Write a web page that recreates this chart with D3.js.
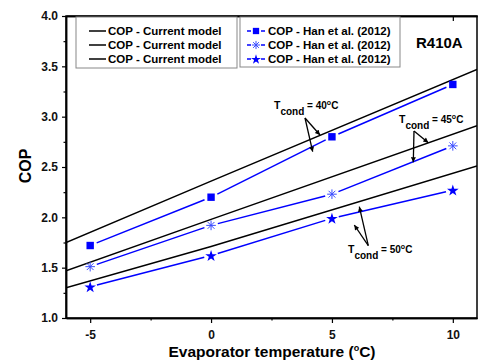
<!DOCTYPE html>
<html><head><meta charset="utf-8">
<script src="https://cdn.jsdelivr.net/npm/d3@7"></script>
<style>body{margin:0;background:#fff}svg{display:block;font-family:"Liberation Sans",Arial,sans-serif;font-weight:bold}</style>
</head><body><svg id="c" width="480" height="360"></svg>
<script>
// ---- data ----
const evapTemps = [-5, 0, 5, 10];
const hanT40 = [1.72, 2.20, 2.80, 3.32];
const hanT45 = [1.51, 1.92, 2.23, 2.71];
const hanT50 = [1.31, 1.62, 1.99, 2.27];
const modelTemps = [-6, 0, 11];
const modelT40 = [1.75, 2.36, 3.47];
const modelT45 = [1.47, 1.98, 2.91];
const modelT50 = [1.30, 1.71, 2.51];
const xTicks = [-5, 0, 5, 10];
const xMinor = [-2.5, 2.5, 7.5];
const yTicks = [1.0, 1.5, 2.0, 2.5, 3.0, 3.5, 4.0];
const yMinor = [1.25, 1.75, 2.25, 2.75, 3.25, 3.75];
const legendModel = ["COP - Current model", "COP - Current model", "COP - Current model"];
const legendHan = ["COP - Han et al. (2012)", "COP - Han et al. (2012)", "COP - Han et al. (2012)"];
const condLabels = ["40", "45", "50"];

const svg = d3.select("#c");
const L = 66, R = 477, T = 16, B = 318;
const x = d3.scaleLinear().domain([-6, 11]).range([L, R]);
const y = d3.scaleLinear().domain([1, 4]).range([B, T]);
const BLUE = "#0000ff";

svg.append("rect").attr("width", 480).attr("height", 360).attr("fill", "#fff");
const defs = svg.append("defs");
defs.append("clipPath").attr("id", "clip")
  .append("rect").attr("x", L).attr("y", T).attr("width", R - L).attr("height", B - T);
defs.append("marker").attr("id", "ah").attr("viewBox", "0 0 10 10").attr("refX", 10).attr("refY", 5)
  .attr("markerWidth", 7).attr("markerHeight", 5).attr("markerUnits", "userSpaceOnUse").attr("orient", "auto")
  .append("path").attr("d", "M0,0L10,5L0,10z").attr("fill", "#000");

const plot = svg.append("g").attr("clip-path", "url(#clip)");

// model lines
const line = d3.line().x(d => x(d[0])).y(d => y(d[1]));
[modelT40, modelT45, modelT50].forEach(s => {
  plot.append("path").datum(modelTemps.map((t, i) => [t, s[i]]))
    .attr("d", line).attr("fill", "none").attr("stroke", "#000").attr("stroke-width", 1.5);
});

// experimental series with gaps around markers
const gap = 7;
function drawSeries(vals, kind) {
  const pts = evapTemps.map((t, i) => [x(t), y(vals[i])]);
  for (let i = 0; i < pts.length - 1; i++) {
    const [x1, y1] = pts[i], [x2, y2] = pts[i + 1];
    const dx = x2 - x1, dy = y2 - y1, len = Math.hypot(dx, dy);
    const ux = dx / len, uy = dy / len;
    plot.append("line").attr("x1", x1 + ux * gap).attr("y1", y1 + uy * gap)
      .attr("x2", x2 - ux * gap).attr("y2", y2 - uy * gap)
      .attr("stroke", BLUE).attr("stroke-width", 1.5);
  }
  pts.forEach(p => drawMarker(svg, kind, p[0], p[1], 1));
}
function drawMarker(g, kind, cx, cy, s) {
  if (kind === "square") {
    const h = 3.7 * s;
    g.append("rect").attr("x", cx - h).attr("y", cy - h).attr("width", 2 * h).attr("height", 2 * h).attr("fill", BLUE);
  } else if (kind === "aster") {
    const r = 4.8 * s;
    const a = g.append("g").attr("stroke", "#3a4cff").attr("stroke-width", 1);
    [0, 45, 90, 135].forEach(ang => {
      const rad = ang * Math.PI / 180;
      a.append("line").attr("x1", cx - r * Math.cos(rad)).attr("y1", cy - r * Math.sin(rad))
        .attr("x2", cx + r * Math.cos(rad)).attr("y2", cy + r * Math.sin(rad));
    });
  } else {
    g.append("path").attr("d", d3.symbol().type(d3.symbolStar).size(42 * s * s)())
      .attr("transform", `translate(${cx},${cy + 0.5})`).attr("fill", BLUE);
  }
}
drawSeries(hanT40, "square");
drawSeries(hanT45, "aster");
drawSeries(hanT50, "star");

// axes
const fmt = d3.format(".1f");
const gl = svg.append("g").attr("transform", `translate(${L},0)`)
  .call(d3.axisLeft(y).tickValues(yTicks).tickFormat(fmt).tickSize(4).tickSizeOuter(0));
svg.append("g").attr("transform", `translate(${L},0)`)
  .call(d3.axisLeft(y).tickValues(yMinor).tickFormat("").tickSize(2.5).tickSizeOuter(0));
const gb = svg.append("g").attr("transform", `translate(0,${B})`)
  .call(d3.axisBottom(x).tickValues(xTicks).tickFormat(d => String(d)).tickSize(5).tickSizeOuter(0));
svg.append("g").attr("transform", `translate(0,${B})`)
  .call(d3.axisBottom(x).tickValues(xMinor).tickFormat("").tickSize(2.5).tickSizeOuter(0));
svg.append("g").attr("transform", `translate(0,${T})`)
  .call(d3.axisTop(x).tickValues(xTicks).tickFormat("").tickSize(-5).tickSizeOuter(0));
svg.append("g").attr("transform", `translate(0,${T})`)
  .call(d3.axisTop(x).tickValues(xMinor).tickFormat("").tickSize(-2.5).tickSizeOuter(0));
svg.selectAll(".domain").attr("stroke", "#000").attr("stroke-width", 1.5);
svg.selectAll(".tick line").attr("stroke", "#000").attr("stroke-width", 1.2);
svg.selectAll(".tick text").attr("font-family", "Liberation Sans, Arial, sans-serif")
  .attr("font-weight", "bold").attr("font-size", 12).attr("fill", "#111");
gl.selectAll(".tick text").attr("x", -8);
gb.selectAll(".tick text").attr("y", 12);
svg.append("rect").attr("x", L).attr("y", T).attr("width", R - L).attr("height", B - T)
  .attr("fill", "none").attr("stroke", "#000").attr("stroke-width", 1.5);

// axis titles
svg.append("text").attr("transform", "translate(31,166) rotate(-90)").attr("text-anchor", "middle")
  .attr("font-size", 16).text("COP");
const xt = svg.append("text").attr("x", 272).attr("y", 357).attr("text-anchor", "middle").attr("font-size", 15.5);
xt.append("tspan").text("Evaporator temperature (");
xt.append("tspan").attr("font-size", 9).attr("dy", -6).text("o");
xt.append("tspan").attr("dy", 6).text("C)");

// legends
svg.append("rect").attr("x", 76).attr("y", 17).attr("width", 161).attr("height", 51)
  .attr("fill", "#fff").attr("stroke", "#888").attr("stroke-width", 1);
svg.append("rect").attr("x", 240).attr("y", 17).attr("width", 160).attr("height", 50)
  .attr("fill", "#fff").attr("stroke", "#888").attr("stroke-width", 1);
const rowsY = [31, 45, 59];
legendModel.forEach((t, i) => {
  svg.append("line").attr("x1", 89).attr("x2", 106).attr("y1", rowsY[i]).attr("y2", rowsY[i])
    .attr("stroke", "#000").attr("stroke-width", 1.5);
  svg.append("text").attr("x", 108).attr("y", rowsY[i] + 4).attr("font-size", 11.5).text(t);
});
const kinds = ["square", "aster", "star"];
legendHan.forEach((t, i) => {
  svg.append("line").attr("x1", 247).attr("x2", 251).attr("y1", rowsY[i]).attr("y2", rowsY[i])
    .attr("stroke", BLUE).attr("stroke-width", 1.5);
  svg.append("line").attr("x1", 261).attr("x2", 265).attr("y1", rowsY[i]).attr("y2", rowsY[i])
    .attr("stroke", BLUE).attr("stroke-width", 1.5);
  drawMarker(svg, kinds[i], 256, rowsY[i], 0.85);
  svg.append("text").attr("x", 268).attr("y", rowsY[i] + 4).attr("font-size", 11.5).text(t);
});
svg.append("text").attr("x", 416).attr("y", 48).attr("font-size", 15).text("R410A");

// annotations
const ann = [
  {tx: 274, ty: 109, arrows: [[305, 118, 320, 135], [305, 118, 312.7, 151.7]]},
  {tx: 399, ty: 123, arrows: [[414, 131, 428.3, 142.7], [414, 131, 413.3, 162.3]]},
  {tx: 348, ty: 252.5, arrows: [[368.3, 245.7, 359.3, 206.7], [368.3, 245.7, 354.3, 225]]}
];
ann.forEach((a, i) => {
  const t = svg.append("text").attr("x", a.tx).attr("y", a.ty).attr("font-size", 10);
  t.append("tspan").attr("font-size", 10.5).text("T");
  t.append("tspan").attr("dy", 6).text("cond");
  t.append("tspan").attr("dy", -6).text(" = " + condLabels[i]);
  t.append("tspan").attr("font-size", 7).attr("dy", -4).text("o");
  t.append("tspan").attr("dy", 4).text("C");
  a.arrows.forEach(ar => {
    svg.append("line").attr("x1", ar[0]).attr("y1", ar[1]).attr("x2", ar[2]).attr("y2", ar[3])
      .attr("stroke", "#000").attr("stroke-width", 1.3).attr("marker-end", "url(#ah)");
  });
});
</script></body></html>
